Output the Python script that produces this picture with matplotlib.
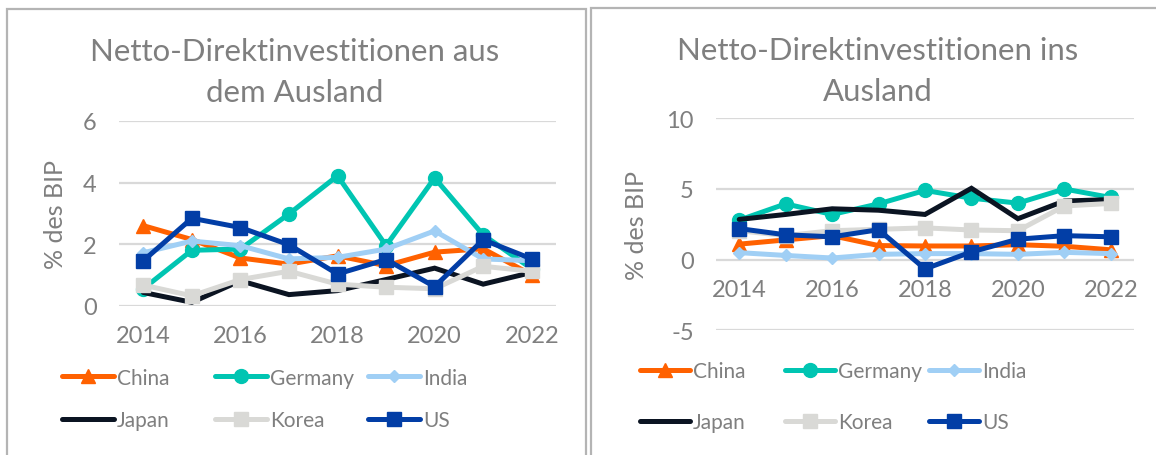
import matplotlib
matplotlib.use("Agg")
import matplotlib.pyplot as plt
from matplotlib.patches import Rectangle
from matplotlib.lines import Line2D

plt.rcParams['font.family'] = ['Lato', 'DejaVu Sans']
plt.rcParams['axes.unicode_minus'] = False

jahre = [2014, 2015, 2016, 2017, 2018, 2019, 2020, 2021, 2022]
laender = ['China', 'Germany', 'India', 'Japan', 'Korea', 'US']

# Netto-Direktinvestitionen aus dem Ausland (% des BIP)
aus_china = [2.6, 2.15, 1.55, 1.35, 1.62, 1.3, 1.74, 1.85, 1.0]
aus_germany = [0.55, 1.8, 1.84, 2.98, 4.22, 1.95, 4.15, 2.3, 1.2]
aus_india = [1.72, 2.1, 1.95, 1.52, 1.57, 1.84, 2.43, 1.52, 1.46]
aus_japan = [0.43, 0.11, 0.81, 0.36, 0.49, 0.85, 1.22, 0.7, 1.08]
aus_korea = [0.67, 0.32, 0.85, 1.12, 0.7, 0.6, 0.55, 1.28, 1.12]
aus_us = [1.46, 2.84, 2.54, 1.98, 1.03, 1.5, 0.62, 2.14, 1.52]

# Netto-Direktinvestitionen ins Ausland (% des BIP)
ins_china = [1.1, 1.4, 1.7, 1.0, 0.97, 0.97, 1.06, 0.95, 0.7]
ins_germany = [2.8, 3.95, 3.2, 3.95, 4.9, 4.35, 4.0, 5.0, 4.4]
ins_india = [0.5, 0.3, 0.12, 0.38, 0.43, 0.43, 0.38, 0.52, 0.43]
ins_japan = [2.85, 3.2, 3.6, 3.5, 3.2, 5.05, 2.9, 4.15, 4.25]
ins_korea = [2.05, 1.7, 2.05, 2.15, 2.25, 2.1, 2.05, 3.8, 3.98]
ins_us = [2.2, 1.76, 1.62, 2.12, -0.65, 0.55, 1.45, 1.7, 1.62]

farben = ['#ff6100', '#00c5b2', '#a0cff5', '#0b1422', '#d9d9d6', '#023ea6']
marker = ['^', 'o', 'D', None, 's', 's']
msize = [10, 10, 6, 0, 10, 10]

grau_text = '#7f7f7f'
grau_gitter = '#d9d9d9'


def zeichne(ax, reihen, ylim, yticks):
    for i, werte in enumerate(reihen):
        ax.plot(jahre, werte, color=farben[i], lw=3.6, marker=marker[i],
                markersize=msize[i], solid_joinstyle='miter',
                solid_capstyle='round', zorder=3 + i)
    ax.set_xlim(2013.5, 2022.5)
    ax.set_ylim(*ylim)
    ax.set_yticks(yticks)
    ax.set_xticks(jahre[::2])
    ax.grid(axis='y', color=grau_gitter, lw=1.6)
    ax.set_axisbelow(True)
    for s in ['top', 'right', 'left']:
        ax.spines[s].set_visible(False)
    # Kategorienachse schneidet bei 0
    ax.spines['bottom'].set_position(('data', 0))
    ax.spines['bottom'].set_color('none')
    ax.tick_params(axis='x', length=0, pad=14, labelsize=17, labelcolor=grau_text)
    ax.tick_params(axis='y', length=0, pad=16, labelsize=17, labelcolor=grau_text)
    ax.set_ylabel('% des BIP', fontsize=18, color=grau_text)


fig = plt.figure(figsize=(11.56, 4.56), dpi=100)

# Rahmen der beiden Diagrammbereiche
fig.patches.append(Rectangle((7 / 1156, -0.1), 579 / 1156, 1.1 - 10 / 456,
                             transform=fig.transFigure, fill=False,
                             edgecolor='#b4b4b4', lw=1.6))
fig.patches.append(Rectangle((591 / 1156, -0.1), 0.6, 1.1 - 9 / 456,
                             transform=fig.transFigure, fill=False,
                             edgecolor='#b4b4b4', lw=1.6))

ax1 = fig.add_axes([119 / 1156, 149.3 / 456, 437 / 1156, 184.7 / 456])
zeichne(ax1, [aus_china, aus_germany, aus_india, aus_japan, aus_korea, aus_us],
        (0, 6), [0, 2, 4, 6])
ax1.yaxis.set_label_coords(-0.12, 0.5)

ax2 = fig.add_axes([716 / 1156, 124.6 / 456, 418 / 1156, 212.1 / 456])
zeichne(ax2, [ins_china, ins_germany, ins_india, ins_japan, ins_korea, ins_us],
        (-5, 10), [-5, 0, 5, 10])
ax2.yaxis.set_label_coords(-0.163, 0.5)

fig.text(295 / 1156, 1 - 72.5 / 456, 'Netto-Direktinvestitionen aus\ndem Ausland',
         ha='center', va='center', fontsize=22.4, color=grau_text, linespacing=1.6)
fig.text(878 / 1156, 1 - 71.5 / 456, 'Netto-Direktinvestitionen ins\nAusland',
         ha='center', va='center', fontsize=22.4, color=grau_text, linespacing=1.55)


def handle(i):
    return Line2D([], [], color=farben[i], lw=3.6, marker=marker[i],
                  markersize=msize[i], solid_capstyle='round')


def legende(x_spalten, y_mitte, abstand, laenge):
    for k, x in enumerate(x_spalten):
        idx = [k, k + 3]
        fig.legend([handle(i) for i in idx], [laender[i] for i in idx],
                   loc='center left', bbox_to_anchor=(x / 1156, y_mitte / 456),
                   frameon=False, fontsize=15, labelcolor=grau_text,
                   handlelength=laenge, handletextpad=0.15,
                   borderpad=0, borderaxespad=0, labelspacing=abstand)


legende([62, 215, 368], 456 - 400, 1.1, 2.5)
legende([640, 785, 929], 456 - 397.5, 1.5, 2.4)

fig.savefig('out.png', dpi=100)
